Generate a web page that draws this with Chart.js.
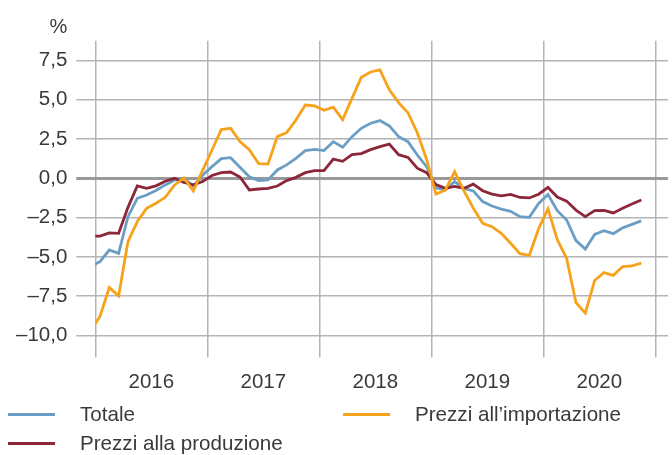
<!DOCTYPE html>
<html lang="it">
<head>
<meta charset="utf-8">
<title>Prezzi alla produzione e all'importazione</title>
<script src="https://cdn.jsdelivr.net/npm/chart.js@4.4.1/dist/chart.umd.min.js"></script>
<style>
    html, body { margin: 0; padding: 0; background: #fff; }
    #wrap { position: relative; width: 672px; height: 455px; }
    #chart { position: absolute; left: 0; top: 0; }
    .legend-item { position: absolute; height: 24px; font: 20.6px "Liberation Sans", Arial, sans-serif; color: #3a3a3a; white-space: nowrap; }
    .legend-item .swatch { position: absolute; left: 0; top: 11px; width: 47px; height: 3px; }
    .legend-item .label { position: absolute; left: 72px; top: 1px; line-height: 22px; }
</style>
</head>
<body>
<div id="wrap">
    <canvas id="chart" width="672" height="455"></canvas>
    <div id="legend"></div>
</div>
<script>
// Valori mensili in %, da dicembre 2015 a novembre 2020
const primoMese = -1; // dicembre 2015 (0 = gennaio 2016)
const anni = ['2016', '2017', '2018', '2019', '2020'];
const ticksY = [-10, -7.5, -5, -2.5, 0, 2.5, 5, 7.5];

const totale = [
    -5.6,
    -5.3, -4.56, -4.77, -2.44, -1.27, -1.06, -0.78, -0.42, -0.11, 0.0, -0.5, 0.2,
    0.74, 1.25, 1.31, 0.7, 0.1, -0.15, -0.1, 0.53, 0.85, 1.27, 1.76, 1.84,
    1.76, 2.33, 1.97, 2.65, 3.18, 3.5, 3.67, 3.33, 2.65, 2.33, 1.48, 0.74,
    -0.6, -0.74, -0.21, -0.64, -0.8, -1.48, -1.76, -1.96, -2.1, -2.44, -2.48, -1.6,
    -1.03, -2.06, -2.65, -3.96, -4.5, -3.57, -3.33, -3.52, -3.15, -2.93, -2.71
];
const produzione = [
    -3.67,
    -3.68, -3.47, -3.5, -1.85, -0.48, -0.64, -0.48, -0.19, 0.0, -0.27, -0.42, -0.21,
    0.18, 0.36, 0.4, 0.08, -0.74, -0.68, -0.64, -0.49, -0.15, 0.06, 0.36, 0.49,
    0.49, 1.22, 1.08, 1.5, 1.57, 1.82, 2.01, 2.17, 1.5, 1.33, 0.64, 0.36,
    -0.4, -0.64, -0.51, -0.64, -0.37, -0.79, -1.01, -1.12, -1.02, -1.22, -1.25, -1.01,
    -0.58, -1.19, -1.45, -2.02, -2.44, -2.06, -2.04, -2.2, -1.91, -1.64, -1.38
];
const importazione = [
    -9.7,
    -8.79, -6.95, -7.48, -4.03, -2.75, -1.91, -1.59, -1.21, -0.42, 0.02, -0.8, 0.5,
    1.8, 3.1, 3.18, 2.33, 1.82, 0.93, 0.91, 2.65, 2.9, 3.71, 4.66, 4.6,
    4.32, 4.53, 3.73, 5.08, 6.42, 6.76, 6.89, 5.63, 4.81, 4.17, 2.9, 1.2,
    -1.0, -0.76, 0.42, -0.8, -1.9, -2.86, -3.08, -3.5, -4.13, -4.79, -4.9, -3.2,
    -1.95, -3.9, -5.1, -7.9, -8.58, -6.5, -6.0, -6.17, -5.61, -5.57, -5.4
];

const serie = [
    { label: 'Totale', data: totale, color: '#6b9ec4', order: 2, legend: { left: 8, top: 402 } },
    { label: 'Prezzi alla produzione', data: produzione, color: '#8b2739', order: 1, legend: { left: 8, top: 431 } },
    { label: 'Prezzi all\u2019importazione', data: importazione, color: '#f7a21b', order: 0, legend: { left: 343, top: 402 } }
];

const FONT = '"Liberation Sans", Arial, sans-serif';
const TEXT = '#3a3a3a';
const GRID = '#b4b4b4';

function formatta(v) {
    const s = Math.abs(v).toFixed(1).replace('.', ',');
    return v < 0 ? '\u2013' + s : s;
}

// "%" sopra le etichette dell'asse y
const percentPlugin = {
    id: 'percent',
    afterDraw(chart) {
        const y = chart.scales.y;
        const ctx = chart.ctx;
        ctx.save();
        ctx.font = '20px ' + FONT;
        ctx.fillStyle = TEXT;
        ctx.textAlign = 'right';
        ctx.textBaseline = 'middle';
        ctx.fillText('%', y.right - 28, 27);
        ctx.restore();
    }
};

Chart.defaults.font.family = FONT;
Chart.defaults.font.size = 20.5;
Chart.defaults.color = TEXT;

new Chart(document.getElementById('chart'), {
    type: 'line',
    data: {
        datasets: serie.map(s => ({
            label: s.label,
            data: s.data.map((v, i) => ({ x: primoMese + i + 0.5, y: v })),
            borderColor: s.color,
            backgroundColor: s.color,
            borderWidth: 2.8,
            pointRadius: 0,
            tension: 0,
            clip: 0,
            order: s.order
        }))
    },
    options: {
        responsive: false,
        animation: false,
        events: [],
        layout: { padding: { left: 0, top: 40.7, right: 4, bottom: 59.8 } },
        plugins: {
            legend: { display: false },
            tooltip: { enabled: false }
        },
        scales: {
            x: {
                type: 'linear',
                min: 0,
                max: 61.36,
                afterBuildTicks: scale => {
                    scale.ticks = [];
                    for (let v = 0; v <= 60; v += 6) scale.ticks.push({ value: v });
                },
                afterFit: scale => { scale.height = 40; },
                border: { display: false },
                grid: {
                    color: ctx => (ctx.tick && ctx.tick.value % 12 === 0) ? GRID : 'rgba(0,0,0,0)',
                    lineWidth: 1.5,
                    tickLength: 2
                },
                ticks: {
                    autoSkip: false,
                    maxRotation: 0,
                    padding: 13,
                    color: TEXT,
                    callback: v => (v % 12 === 6) ? anni[(v - 6) / 12] : ''
                }
            },
            y: {
                min: -11.25,
                max: 8.75,
                afterBuildTicks: scale => {
                    scale.ticks = ticksY.map(v => ({ value: v }));
                },
                afterFit: scale => { scale.width = 95.3; },
                border: { display: false },
                grid: {
                    color: ctx => (ctx.tick && ctx.tick.value === 0) ? '#999999' : GRID,
                    lineWidth: ctx => (ctx.tick && ctx.tick.value === 0) ? 3 : 1.5,
                    tickLength: 19
                },
                ticks: {
                    padding: 9,
                    color: TEXT,
                    callback: v => formatta(v)
                }
            }
        }
    },
    plugins: [percentPlugin]
});

// Legenda in HTML, due colonne
const legend = document.getElementById('legend');
serie.forEach(s => {
    const item = document.createElement('div');
    item.className = 'legend-item';
    item.style.left = s.legend.left + 'px';
    item.style.top = s.legend.top + 'px';
    item.innerHTML = `<span class="swatch" style="background:${s.color}"></span><span class="label">${s.label}</span>`;
    legend.appendChild(item);
});
</script>
</body>
</html>
